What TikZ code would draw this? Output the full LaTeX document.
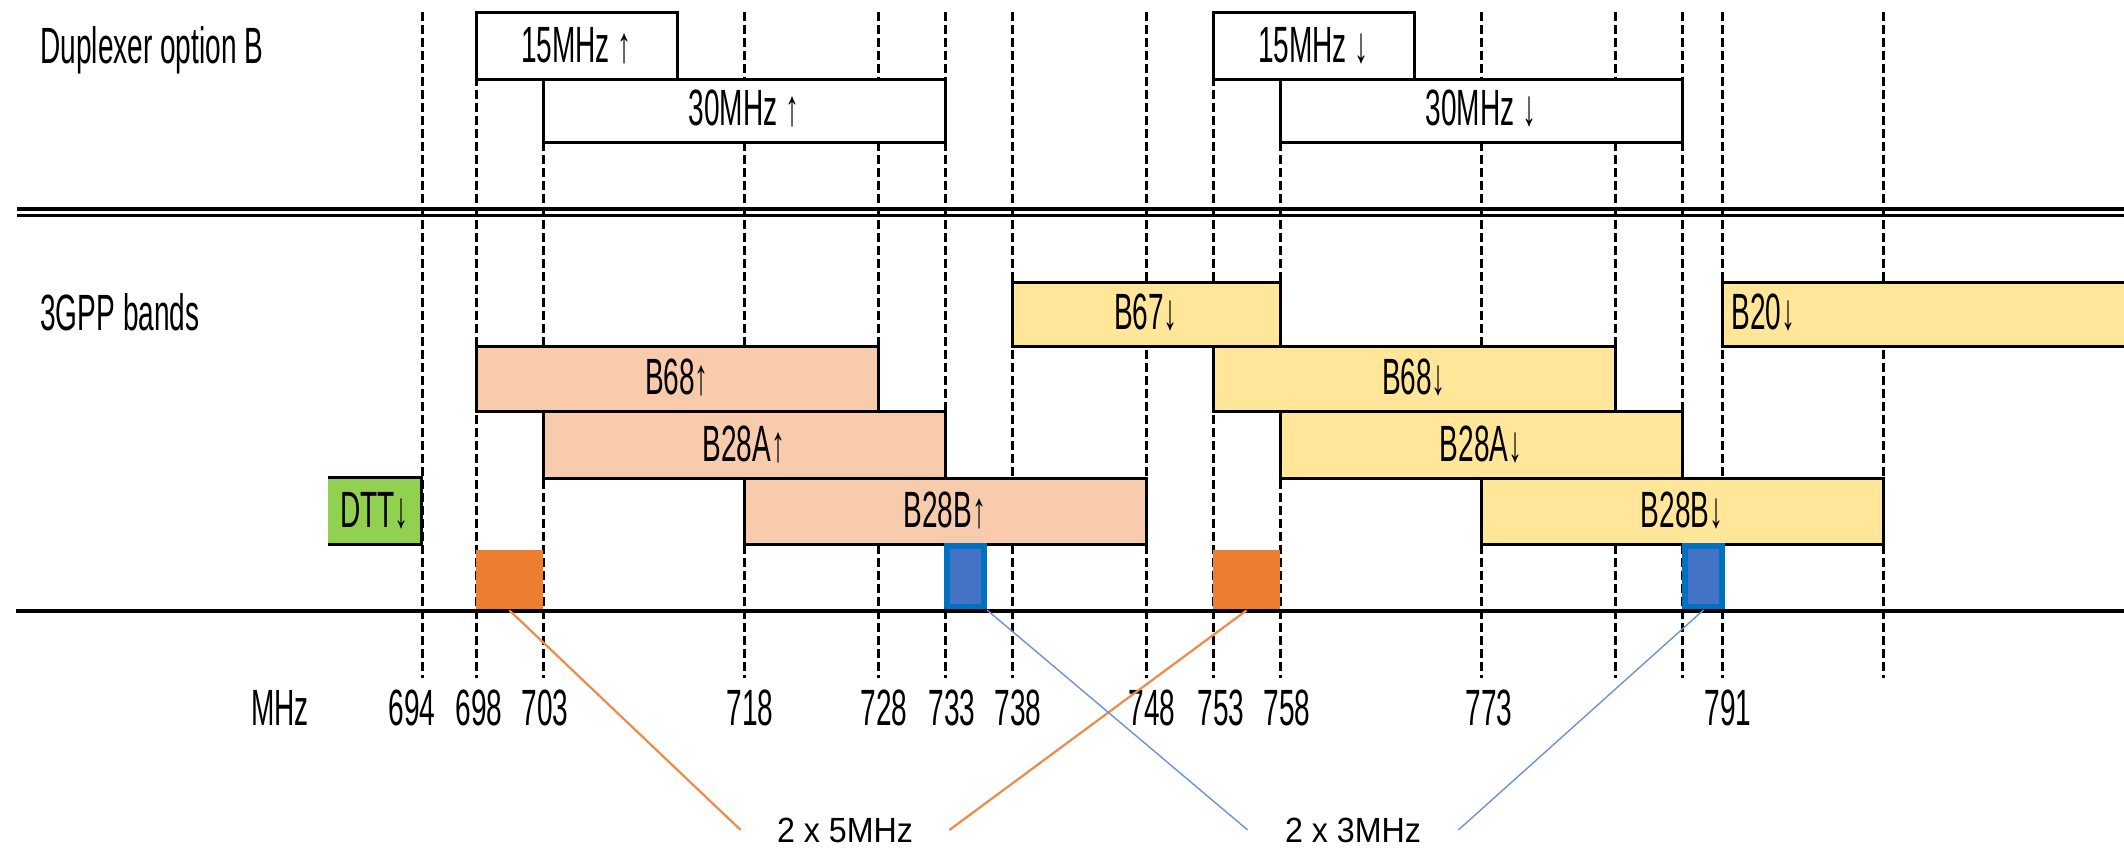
\documentclass[tikz,border=0pt]{standalone}
\usepackage{fontspec}
\setmainfont{Liberation Sans}
\newfontfamily\narrowf[FakeStretch=0.55]{Liberation Sans}
\newfontfamily\widerf[FakeStretch=0.92]{Liberation Sans}
\usetikzlibrary{fit}
\definecolor{upfill}{HTML}{F8CBAD}
\definecolor{dnfill}{HTML}{FFE699}
\definecolor{dttfill}{HTML}{92D050}
\definecolor{orangebox}{HTML}{ED7D31}
\definecolor{bluefill}{HTML}{4472C4}
\definecolor{blueedge}{HTML}{0070C0}
\definecolor{orangeline}{HTML}{F08A48}
\definecolor{blueline}{HTML}{6E92D4}
\newcommand\mkband[7]{%
  \node[bandbox, fill=#6, fit={(#2,#4) (#3,#5)}] (#1) {};
  \pgfmathsetmacro\bcx{(#2+#3)/2}%
  \pgfmathsetmacro\bby{#5-17}%
  \node[lbl] (#1-t) at (\bcx,\bby) {#7};
}
\begin{document}
\begin{tikzpicture}[x=0.5pt,y=-0.5pt,
  lbl/.style={font=\narrowf\fontsize{25.5}{30}\selectfont, inner sep=0pt, anchor=base, text=black},
  smalllbl/.style={font=\widerf\fontsize{17.5}{20}\selectfont, inner sep=0pt, anchor=base, text=black},
  gridline/.style={line width=1.5pt, dash pattern=on 4.5pt off 2pt},
  bandbox/.style={draw=black, line width=1.5pt, inner sep=0pt},
  orline/.style={draw=orangeline, line width=1.1pt},
  blline/.style={draw=blueline, line width=0.7pt}]
\useasboundingbox[fill=white] (0,0) rectangle (2124,847);

% dashed frequency grid lines
\foreach \gx in {422,476,543,744,878,945,1012,1146,1213,1280,1481,1615,1682,1722,1883}
  \draw[gridline] (\gx,12) -- (\gx,678);

% duplexer option B
\node[lbl, anchor=base west] (dup) at (40,63) {Duplexer option B};
\mkband{d15u}{476}{677}{12}{79}{white}{15MHz ↑}
\mkband{d30u}{543}{945}{79}{142}{white}{30MHz ↑}
\mkband{d15d}{1213}{1414}{12}{79}{white}{15MHz ↓}
\mkband{d30d}{1280}{1682}{79}{142}{white}{30MHz ↓}

% double separator
\draw[line width=1.8pt] (17,208.7) -- (2124,208.7);
\draw[line width=1.7pt] (17,215.7) -- (2124,215.7);

% 3GPP bands
\node[lbl, anchor=base west] (gpp) at (40,330) {3GPP bands};
\mkband{b67d}{1012}{1280}{282}{346}{dnfill}{B67↓}
\node[bandbox, fill=dnfill, fit={(1722,282) (2134,346)}] (b20d) {};
\node[lbl, anchor=base west] (b20d-t) at (1731,329) {B20↓};
\mkband{b68u}{476}{878}{346}{411}{upfill}{B68↑}
\mkband{b68d}{1213}{1615}{346}{411}{dnfill}{B68↓}
\mkband{b28au}{543}{945}{411}{478}{upfill}{B28A↑}
\mkband{b28ad}{1280}{1682}{411}{478}{dnfill}{B28A↓}
\mkband{b28bu}{744}{1146}{478}{544}{upfill}{B28B↑}
\mkband{b28bd}{1481}{1883}{478}{544}{dnfill}{B28B↓}

% DTT
\node[fill=dttfill, inner sep=0pt, fit={(328,478) (421,544)}] (dtt) {};
\draw[line width=1.5pt] (dtt.north west) -- (dtt.north east) -- (dtt.south east) -- (dtt.south west);
\node[lbl] (dtt-t) at (374.5,527) {DTT↓};

% guard bands
\node[fill=orangebox, inner sep=0pt, fit={(476,550) (543,610)}] (or1) {};
\node[fill=orangebox, inner sep=0pt, fit={(1213,550) (1280,610)}] (or2) {};
\node[draw=blueedge, line width=3pt, fill=bluefill, inner sep=0pt, fit={(947,546) (984,607)}] (bl1) {};
\node[draw=blueedge, line width=3pt, fill=bluefill, inner sep=0pt, fit={(1685,546) (1722,607)}] (bl2) {};

% baseline
\draw[line width=1.7pt] (16,611) -- (2124,611);

% frequency labels
\node[lbl] (mhz) at (280,725) {MHz};
\foreach \lx/\lt in {412/694,479/698,545/703,750/718,884/728,952/733,1018/738,1152/748,1221/753,1287/758,1489/773,1728/791}
  \node[lbl] (f\lt) at (\lx,725) {\lt};

% guard band labels and connectors
\node[smalllbl, minimum width=104pt] (lab5) at (845,842) {2 x 5MHz};
\node[smalllbl, minimum width=105pt] (lab3) at (1353,842) {2 x 3MHz};
\draw[orline] (or1.south) -- (lab5.west);
\draw[orline] (or2.south) -- (lab5.east);
\draw[blline] (bl1.south east) -- (lab3.west);
\draw[blline] (bl2.south) -- (lab3.east);
\end{tikzpicture}
\end{document}
